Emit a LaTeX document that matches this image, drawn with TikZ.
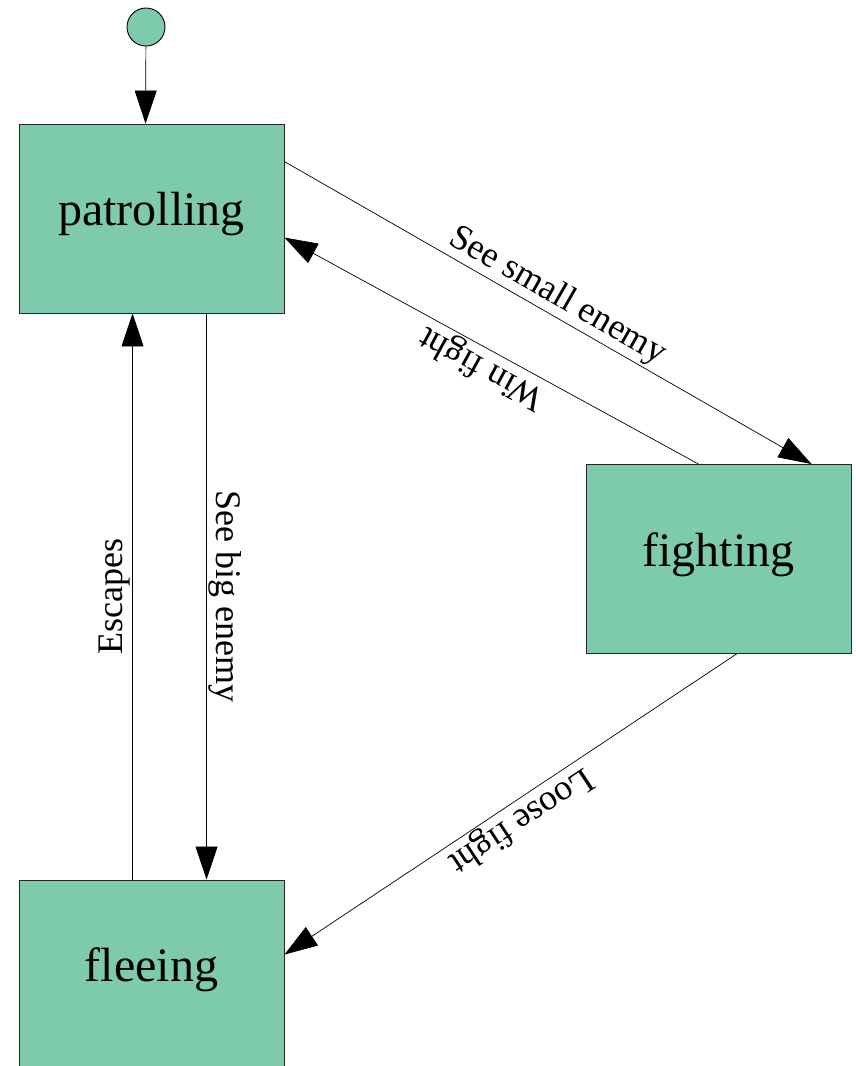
\documentclass[tikz,border=0pt]{standalone}
\usepackage{fontspec}
\setmainfont{Liberation Serif}
\usetikzlibrary{arrows.meta,calc}
\definecolor{statefill}{RGB}{125,203,172}
\begin{document}
\begin{tikzpicture}[x=1pt,y=-1pt,
  statebox/.style={draw=black!85,line width=0.9pt,fill=statefill,minimum width=265pt,minimum height=189pt,inner sep=0pt,text height=33pt,text depth=19pt,font=\fontsize{48}{52}\selectfont},
  initstate/.style={circle,draw=black,line width=0.9pt,fill=statefill,minimum size=38pt,inner sep=0pt},
  trans/.style={draw=black,line width=0.7pt,-{Triangle[length=33pt,width=22pt]}},
  lbl/.style={sloped,allow upside down,above,inner sep=2pt,font=\fontsize{36}{40}\selectfont}
]
\useasboundingbox (0,0) rectangle (856,1066);
\node[initstate] (init) at (146,27) {};
\node[statebox] (patrolling) at (151.5,218.5) {patrolling};
\node[statebox] (fighting) at (718.5,559) {fighting};
\node[statebox] (fleeing) at (151.5,974.5) {fleeing};

\coordinate (pin) at ($(patrolling.north west)+(127,0)$);
\coordinate (ps1) at ($(patrolling.north east)+(0,38)$);
\coordinate (fs1) at ($(fighting.north west)+(226,0)$);
\coordinate (fw1) at ($(fighting.north west)+(113,0)$);
\coordinate (pw1) at ($(patrolling.north east)+(0,114)$);
\coordinate (pb1) at ($(patrolling.south west)+(188,0)$);
\coordinate (lb1) at ($(fleeing.north west)+(188,0)$);
\coordinate (le1) at ($(fleeing.north west)+(114,0)$);
\coordinate (pe1) at ($(patrolling.south west)+(114,0)$);
\coordinate (fl1) at ($(fighting.south west)+(151,0)$);
\coordinate (lf1) at ($(fleeing.north east)+(0,75)$);

\draw[trans] (init) -- (pin);
\draw[trans] (ps1) -- node[lbl] {See small enemy} (fs1);
\draw[trans] (fw1) -- node[lbl] {Win fight} (pw1);
\draw[trans] (pb1) -- node[lbl] {See big enemy} (lb1);
\draw[trans] (le1) -- node[lbl] {Escapes} (pe1);
\draw[trans] (fl1) -- node[lbl] {Loose fight} (lf1);
\end{tikzpicture}
\end{document}
